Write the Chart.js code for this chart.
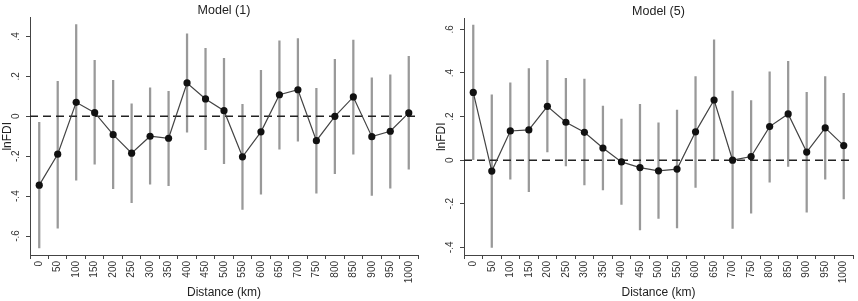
<!DOCTYPE html>
<html>
<head>
<meta charset="utf-8">
<script src="https://cdn.jsdelivr.net/npm/chart.js@4.4.1/dist/chart.umd.min.js"></script>
<style>
    body { margin: 0; background: #fff; }
    #wrap { width: 858px; height: 301px; display: flex; }
    canvas { display: block; }
</style>
</head>
<body>
<div id="wrap">
    <canvas id="model1" width="429" height="301"></canvas>
    <canvas id="model5" width="429" height="301"></canvas>
</div>
<script>
// Distance bins (km) on x-axis
const distances = [0, 50, 100, 150, 200, 250, 300, 350, 400, 450, 500,
    550, 600, 650, 700, 750, 800, 850, 900, 950, 1000];
const xRange = [-25, 1025];

// Model (1): coefficient and confidence interval
const m1Coef = [-0.345, -0.19, 0.07, 0.018, -0.092, -0.185, -0.10, -0.11, 0.167, 0.087, 0.028,
    -0.203, -0.078, 0.108, 0.133, -0.122, 0.0, 0.097, -0.102, -0.075, 0.017];
const m1Lo = [-0.66, -0.56, -0.32, -0.24, -0.363, -0.433, -0.34, -0.347, -0.08, -0.167, -0.237,
    -0.467, -0.39, -0.165, -0.125, -0.385, -0.288, -0.19, -0.397, -0.36, -0.265];
const m1Hi = [-0.03, 0.175, 0.46, 0.28, 0.18, 0.063, 0.142, 0.125, 0.413, 0.34, 0.29,
    0.06, 0.23, 0.378, 0.39, 0.14, 0.285, 0.382, 0.193, 0.208, 0.30];
const m1Ticks = [-0.6, -0.4, -0.2, 0, 0.2, 0.4];
const m1Range = [-0.695, 0.495];

// Model (5)
const m5Coef = [0.311, -0.05, 0.134, 0.139, 0.247, 0.174, 0.128, 0.056, -0.008, -0.034, -0.049,
    -0.041, 0.13, 0.276, 0.0, 0.017, 0.154, 0.212, 0.037, 0.148, 0.067];
const m5Lo = [0.0, -0.40, -0.087, -0.144, 0.038, -0.026, -0.114, -0.137, -0.203, -0.32, -0.267,
    -0.311, -0.125, 0.001, -0.313, -0.243, -0.101, -0.029, -0.238, -0.087, -0.178];
const m5Hi = [0.62, 0.30, 0.355, 0.42, 0.458, 0.375, 0.372, 0.248, 0.188, 0.256, 0.171,
    0.23, 0.383, 0.552, 0.317, 0.273, 0.405, 0.453, 0.311, 0.383, 0.307];
const m5Ticks = [-0.4, -0.2, 0, 0.2, 0.4, 0.6];
const m5Range = [-0.435, 0.65];

const FONT = "'Liberation Sans', Arial, sans-serif";

// Stata style labels: .4, -.2, 0
function stataLabel(v) {
    if (Math.abs(v) < 1e-9) return '0';
    return String(Math.round(v * 10) / 10).replace('0.', '.');
}

function makePanel(id, title, coef, lo, hi, yTicks, yRange, pad) {
    const ctx = document.getElementById(id).getContext('2d');
    return new Chart(ctx, {
        type: 'line',
        data: {
            datasets: [
                {
                    type: 'line',
                    data: distances.map((d, i) => ({ x: d, y: coef[i] })),
                    borderColor: '#444',
                    borderWidth: 1.2,
                    pointRadius: 3.6,
                    pointBackgroundColor: '#111',
                    pointBorderColor: '#111',
                    pointBorderWidth: 0,
                    order: 0
                },
                {
                    type: 'line',
                    data: xRange.map(x => ({ x: x, y: 0 })),
                    borderColor: '#222',
                    borderWidth: 1.5,
                    borderDash: [8, 5],
                    pointRadius: 0,
                    order: 1
                },
                {
                    type: 'bar',
                    data: distances.map((d, i) => ({ x: d, y: [lo[i], hi[i]] })),
                    backgroundColor: '#999',
                    barThickness: 1.6,
                    order: 2
                }
            ]
        },
        options: {
            responsive: false,
            animation: false,
            layout: { padding: pad },
            plugins: {
                legend: { display: false },
                tooltip: { enabled: false },
                title: {
                    display: true,
                    text: title,
                    fullSize: false,
                    color: '#222',
                    font: { family: FONT, size: 12.5, weight: 'normal', lineHeight: 1 },
                    padding: { top: 4, bottom: 1 }
                }
            },
            scales: {
                x: {
                    type: 'linear',
                    min: xRange[0],
                    max: xRange[1],
                    offset: false,
                    afterBuildTicks: s => { s.ticks = distances.map(v => ({ value: v })); },
                    afterFit: s => { s.height = 46; },
                    grid: { display: true, drawOnChartArea: false, tickLength: 4, color: '#444' },
                    border: { display: true, color: '#444', width: 1 },
                    ticks: {
                        minRotation: 90,
                        maxRotation: 90,
                        padding: 2,
                        color: '#333',
                        font: { family: FONT, size: 10 },
                        callback: v => String(v)
                    },
                    title: {
                        display: true,
                        text: 'Distance (km)',
                        color: '#222',
                        font: { family: FONT, size: 12 },
                        padding: { top: 0, bottom: 1 }
                    }
                },
                y: {
                    min: yRange[0],
                    max: yRange[1],
                    afterBuildTicks: s => { s.ticks = yTicks.map(v => ({ value: v })); },
                    afterFit: s => { s.width = 30; },
                    grid: { display: true, drawOnChartArea: false, tickLength: 4, color: '#444' },
                    border: { display: true, color: '#444', width: 1 },
                    ticks: {
                        minRotation: 90,
                        maxRotation: 90,
                        crossAlign: 'center',
                        padding: 4,
                        color: '#333',
                        font: { family: FONT, size: 10 },
                        callback: v => stataLabel(v)
                    },
                    title: {
                        display: true,
                        text: 'lnFDI',
                        color: '#222',
                        font: { family: FONT, size: 12 },
                        padding: 0
                    }
                }
            }
        }
    });
}

makePanel('model1', 'Model (1)', m1Coef, m1Lo, m1Hi, m1Ticks, m1Range,
    { left: 0, right: 11, top: 0, bottom: 0 });
makePanel('model5', 'Model (5)', m5Coef, m5Lo, m5Hi, m5Ticks, m5Range,
    { left: 5, right: 5, top: 1, bottom: 0 });
</script>
</body>
</html>
